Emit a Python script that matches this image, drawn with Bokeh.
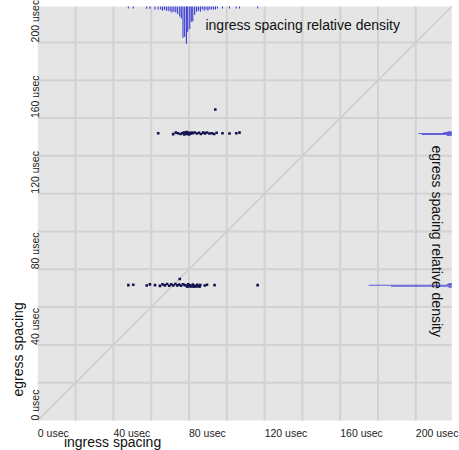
import math
from bokeh.plotting import figure
from bokeh.models import Range1d, ColumnDataSource
from bokeh.core.properties import value
from bokeh.embed import file_html
from bokeh.resources import INLINE

# ---- data (microseconds) ----
point_ingress = [63.7, 71.6, 73.0, 74.2, 75.5, 76.5, 77.2, 77.8, 78.4, 79.0, 79.6, 80.2, 80.8, 81.4, 82.0,
                 77.5, 78.7, 80.0, 83.0, 84.2, 85.3, 86.3, 87.5, 88.5, 89.5, 90.8, 92.0, 93.3, 94.6,
                 97.7, 101.4, 105.0, 106.7, 93.9,
                 47.9, 50.5, 57.6, 59.3, 62.0, 64.6, 66.0, 67.2, 68.4, 69.5, 70.6, 71.7, 72.8, 73.8,
                 74.8, 75.8, 76.8, 77.8, 78.8, 79.6, 80.4, 81.2, 82.0, 82.8, 83.6, 84.4, 85.2, 86.0,
                 79.2, 80.8, 82.4, 84.0, 85.6, 88.3, 89.5, 93.5, 116.3, 75.1]
point_egress = [152.0, 151.5, 152.3, 152.0, 151.6, 152.0, 152.4, 151.8, 152.2, 151.6, 152.4, 152.0, 151.7, 152.3, 152.0,
                151.4, 152.6, 151.3, 152.4, 151.8, 152.2, 151.6, 152.3, 151.9, 152.4, 151.8, 152.0, 151.6, 152.2,
                152.0, 151.8, 152.0, 152.3, 164.5,
                71.6, 71.8, 71.4, 72.0, 71.6, 71.2, 72.0, 71.5, 72.2, 71.3, 72.0, 71.4, 72.2, 71.5,
                71.9, 71.3, 72.1, 71.6, 71.2, 72.0, 71.5, 71.1, 71.9, 71.4, 71.0, 71.8, 71.3, 71.7,
                70.8, 70.9, 70.8, 70.9, 70.8, 71.4, 71.8, 71.6, 71.6, 74.9]

ingress_bins = [47.9, 50.5, 57.6, 59.3, 62.0, 63.7, 65.0, 66.0, 67.0, 68.0, 69.0, 70.0, 71.0, 72.0, 73.0,
                74.0, 75.1, 75.9, 76.8, 77.7, 78.6, 79.3, 80.4, 81.2, 82.0, 83.0, 84.0, 85.0, 86.0, 87.0,
                88.0, 89.0, 90.0, 91.0, 92.0, 93.0, 94.0, 95.0, 97.7, 101.4, 105.0, 106.7, 116.3]
ingress_density = [0.05, 0.05, 0.06, 0.06, 0.08, 0.08, 0.08, 0.11, 0.08, 0.11, 0.11, 0.13, 0.16, 0.14, 0.16,
                   0.20, 0.27, 0.32, 0.84, 0.81, 1.00, 0.68, 0.60, 0.41, 0.40, 0.22, 0.14, 0.11, 0.14, 0.08,
                   0.11, 0.08, 0.11, 0.08, 0.08, 0.08, 0.08, 0.05, 0.05, 0.05, 0.05, 0.05, 0.05]

egress_bins = [70.5, 71.0, 71.5, 72.0, 72.5, 150.8, 151.3, 151.8, 152.3, 152.8]
egress_density = [0.04, 0.73, 1.00, 0.06, 0.04, 0.06, 0.36, 0.40, 0.10, 0.05]

label_ticks = [0, 40, 80, 120, 160, 200]
tick_labels = ["0 usec", "40 usec", "80 usec", "120 usec", "160 usec", "200 usec"]
grid_ticks = [20, 40, 60, 80, 100, 120, 140, 160, 180, 200]

# ---- layout constants ----
AREA_MAX = 219.0          # extent of the plotting area, both axes (usec)
TOP_DEPTH = 19.7          # usec of height used by full-scale ingress density
RIGHT_DEPTH = 44.0        # usec of width used by full-scale egress density
FONT = value("Liberation Sans")

p = figure(width=459, height=450, output_backend="svg", toolbar_location=None,
           x_range=Range1d(-19.74, 223.1), y_range=Range1d(-15.87, 222.2),
           x_axis_location=None, y_axis_location=None,
           min_border=0, min_border_left=0, min_border_right=0,
           min_border_top=0, min_border_bottom=0)
p.grid.visible = False
p.outline_line_color = None
p.background_fill_color = "white"
p.border_fill_color = "white"

# plotting area background
p.quad(left=[0], right=[AREA_MAX], bottom=[0], top=[AREA_MAX],
       fill_color="#e5e5e5", line_color=None)

# grid lines
n = len(grid_ticks)
p.segment(x0=grid_ticks, x1=grid_ticks, y0=[0] * n, y1=[AREA_MAX] * n,
          line_color="#d2d2d2", line_width=2)
p.segment(x0=[0] * n, x1=[AREA_MAX] * n, y0=grid_ticks, y1=grid_ticks,
          line_color="#d2d2d2", line_width=2)

# diagonal y = x
p.line([0, AREA_MAX], [0, AREA_MAX], line_color="#cdcdcd", line_width=1.5)

# marginal densities
top_src = ColumnDataSource(dict(x=ingress_bins,
                                top=[AREA_MAX] * len(ingress_bins),
                                bottom=[AREA_MAX - d * TOP_DEPTH for d in ingress_density]))
p.vbar(x="x", top="top", bottom="bottom", width=0.55, source=top_src,
       fill_color="#1c1cd2", line_color=None, fill_alpha=0.9)

right_src = ColumnDataSource(dict(y=egress_bins,
                                  right=[AREA_MAX] * len(egress_bins),
                                  left=[AREA_MAX - d * RIGHT_DEPTH for d in egress_density]))
p.hbar(y="y", left="left", right="right", height=0.55, source=right_src,
       fill_color="#2a2ad4", line_color=None, fill_alpha=0.7)

# scatter
p.scatter(point_ingress, point_egress, marker="square", size=2.6,
          fill_color="#13134f", line_color=None)

# tick labels
nl = len(label_ticks)
p.text(x=label_ticks, y=[-6.35] * nl, text=tick_labels, text_align="left",
       text_baseline="alphabetic", text_font=FONT, text_font_size=value("10.5px"),
       text_color="#222222")
p.text(x=[-1.75] * nl, y=label_ticks, text=tick_labels, text_align="left",
       text_baseline="alphabetic", angle=math.pi / 2, text_font=FONT,
       text_font_size=value("10.5px"), text_color="#222222")

# axis titles
p.text(x=[13.8], y=[-11.6], text=["ingress spacing"], text_align="left",
       text_baseline="alphabetic", text_font=FONT, text_font_size=value("14px"),
       text_color="#111111")
p.text(x=[-10.7], y=[12.7], text=["egress spacing"], text_align="left",
       text_baseline="alphabetic", angle=math.pi / 2, text_font=FONT,
       text_font_size=value("14px"), text_color="#111111")

# density titles
p.text(x=[88.7], y=[209.5], text=["ingress spacing relative density"], text_align="left",
       text_baseline="alphabetic", text_font=FONT, text_font_size=value("14px"),
       text_color="#111111")
p.text(x=[211.4], y=[145.5], text=["egress spacing relative density"], text_align="left",
       text_baseline="alphabetic", angle=-math.pi / 2, text_font=FONT,
       text_font_size=value("14px"), text_color="#111111")

open("out.html", "w").write(file_html(p, INLINE))
